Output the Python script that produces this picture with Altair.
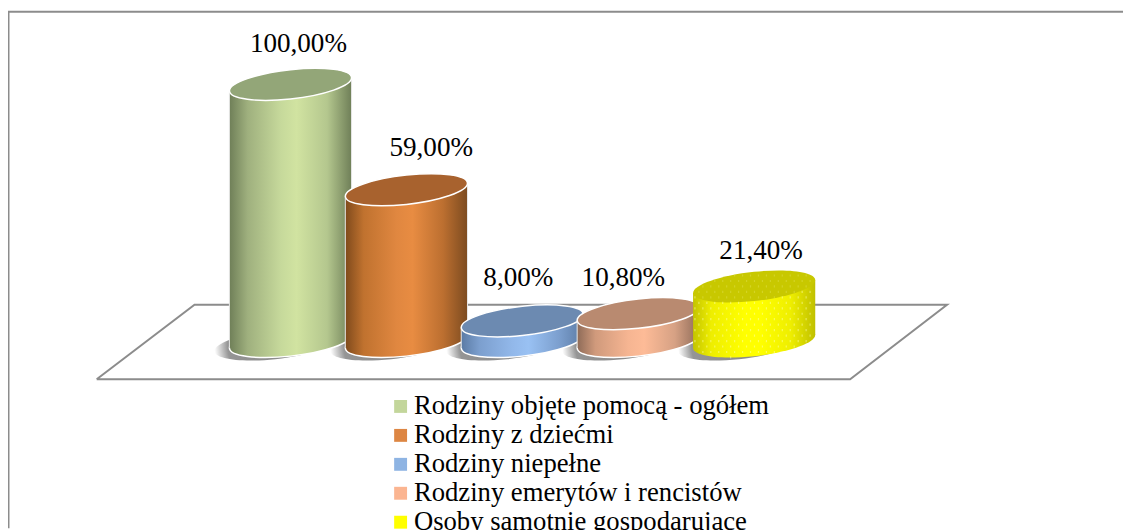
import altair as alt
import pandas as pd

categories = ["Rodziny objęte pomocą - ogółem", "Rodziny z dziećmi", "Rodziny niepełne",
              "Rodziny emerytów i rencistów", "Osoby samotnie gospodarujące"]
values = [100.0, 59.0, 8.0, 10.8, 21.4]
labels = ["100,00%", "59,00%", "8,00%", "10,80%", "21,40%"]
legend_colors = ["#c3d69b", "#dd8643", "#8eb4e3", "#fbb591", "#ffff00"]
top_colors = ["#93a678", "#a8622e", "#6c8ab1", "#b98a70", "#c8c800"]
side_stops = [
    ["#6f7f58", "#9fb07e", "#c6d99b", "#d1e3a1", "#b4c78e", "#6f7f58"],
    ["#7f4a1c", "#c0722f", "#e08740", "#e88c42", "#bc6f30", "#7c4b20"],
    ["#5b7ba5", "#7c9fce", "#92b8ea", "#99c1f3", "#7c9fce", "#5b7ba5"],
    ["#8e6b58", "#d09a7c", "#f6b592", "#fdbb97", "#d6a184", "#8e6b58"],
    ["#c4c400", "#eeee00", "#ffff00", "#ffff00", "#eeee00", "#c0c000"],
]
rim_strokes = ["#ffffff", "#ffffff", "#ffffff", "#ffffff", None]
label_dx = [8, 25, -4, -15, 7]
label_dy = [-41, -42, -43.5, -35.5, -36]
floor_x = [-1.672, 4.828, 5.664, -0.828, -1.672]
floor_y = [-14.67, -14.67, 14.29, 14.29, -14.67]

W, H = 1123, 522
x_scale = alt.Scale(domain=[-2.437, 7.182], range=[0, W], nice=False, zero=False)
y_scale = alt.Scale(domain=[128.96, -72.59], range=[0, H], nice=False, zero=False)
X = lambda f: alt.X(f, type="quantitative", scale=x_scale, axis=None)
Y = lambda f: alt.Y(f, type="quantitative", scale=y_scale, axis=None)

RADIUS = 0.527   # half a cylinder, in category steps
TILT = 2.5       # rise of the rim across half a cylinder, in value units
HALF_PX = 61.5
SIZE = (2 * HALF_PX) ** 2   # symbol size giving the rim's width
SHEAR, MINOR = -0.1066, 0.24


def rim_path():
    k = 0.5523

    def p(c, s):
        return f"{c:.4f},{SHEAR * c + MINOR * s:.4f}"

    return (f"M{p(1, 0)} C{p(1, k)} {p(k, 1)} {p(0, 1)} C{p(-k, 1)} {p(-1, k)} {p(-1, 0)} "
            f"C{p(-1, -k)} {p(-k, -1)} {p(0, -1)} C{p(k, -1)} {p(1, -k)} {p(1, 0)} Z")


def dots_path(side_px):
    """A fine dot texture as one symbol path, in the rim symbol's unit square."""
    parts = []
    dx, dy = 8.0 / HALF_PX, 5.5 / HALF_PX
    w, h = 0.6 / HALF_PX, 1.1 / HALF_PX
    depth = side_px / HALF_PX
    row = -8
    while row < 30:
        x = -0.97 + (dx / 2 if row % 2 else 0)
        while x < 0.97:
            y = row * dy
            rim = SHEAR * x
            half = MINOR * (1 - x * x) ** 0.5
            if side_px:
                keep = rim + half < y < rim + half + depth
            else:
                keep = abs(y - rim) < half * 0.95
            if keep:
                parts.append(f"M{x - w:.4f},{y - h:.4f}L{x + w:.4f},{y - h:.4f}"
                             f"L{x + w:.4f},{y + h:.4f}L{x - w:.4f},{y + h:.4f}Z")
            x += dx
        row += 1
    return "".join(parts)


RIM = rim_path()
layers = []

# frame
frame_style = dict(color="#8c8c8c", strokeWidth=2)
layers.append(alt.Chart(pd.DataFrame({"a": [0]})).mark_rule(**frame_style).encode(
    x=alt.value(0), x2=alt.value(W), y=alt.value(2)))
layers.append(alt.Chart(pd.DataFrame({"a": [0]})).mark_rule(**frame_style).encode(
    x=alt.value(0.5), y=alt.value(2), y2=alt.value(H)))

# floor
floor = pd.DataFrame({"fx": floor_x, "fy": floor_y, "o": range(len(floor_x))})
layers.append(alt.Chart(floor).mark_line(color="#8c8c8c", strokeWidth=2).encode(
    x=X("fx"), y=Y("fy"), order="o:Q"))

# legend source, invisible in the plot
df = pd.DataFrame({"i": range(5), "v": values, "cat": categories, "lab": labels})
layers.append(alt.Chart(df).mark_square(opacity=0).encode(
    x=X("i"), y=Y("v"),
    color=alt.Color("cat:N", scale=alt.Scale(domain=categories, range=legend_colors),
                    legend=alt.Legend(title=None, orient="none", legendX=382, legendY=386,
                                      symbolType="square", symbolSize=169, symbolOpacity=1,
                                      symbolStrokeWidth=0, labelFont="Liberation Serif",
                                      labelFontSize=26.85, labelColor="#000000", labelLimit=500,
                                      rowPadding=1.15, labelOffset=0))))

# soft shadows
shadow = alt.RadialGradient(gradient="radial", stops=[
    alt.GradientStop(offset=0, color="#8a8a8a"), alt.GradientStop(offset=0.78, color="#959595"),
    alt.GradientStop(offset=1, color="#ffffff")])
layers.append(alt.Chart(df.assign(sx=df.i - 0.13, sy=-1.2)).mark_point(
    filled=True, shape=RIM, size=SIZE, fill=shadow, opacity=1).encode(x=X("sx"), y=Y("sy")))

for i, (v, stops) in enumerate(zip(values, side_stops)):
    offsets = [0, 0.15, 0.42, 0.55, 0.8, 1]
    grad = alt.LinearGradient(gradient="linear", x1=0, x2=1, y1=0, y2=0,
                              stops=[alt.GradientStop(offset=o, color=c) for o, c in zip(offsets, stops)])
    base = alt.Chart(pd.DataFrame({"i": [i], "v": [v], "b": [0.0]}))
    rim_style = dict(stroke=rim_strokes[i], strokeWidth=1.5) if rim_strokes[i] else {}
    layers.append(base.mark_point(filled=True, shape=RIM, size=SIZE, fill=grad, opacity=1,
                                  **rim_style).encode(x=X("i"), y=Y("b")))
    side = pd.DataFrame({"sx": [i - RADIUS, i + RADIUS], "top": [v - TILT, v + TILT], "bot": [-TILT, TILT]})
    layers.append(alt.Chart(side).mark_area(fill=grad, opacity=1).encode(
        x=X("sx"), y=Y("top"), y2=alt.Y2("bot")))
    if rim_strokes[i]:
        layers.append(alt.Chart(side).mark_rule(color="#e8e8e8", strokeWidth=1).encode(
            x=X("sx"), y=Y("top"), y2=alt.Y2("bot")))
    layers.append(base.mark_point(filled=True, shape=RIM, size=SIZE, fill=top_colors[i], opacity=1,
                                  **rim_style).encode(x=X("i"), y=Y("v")))
    if not rim_strokes[i]:
        height_px = v * H / (128.96 + 72.59)
        layers.append(base.mark_point(filled=True, shape=dots_path(height_px), size=SIZE,
                                      fill="#ffffb0", opacity=0.5).encode(x=X("i"), y=Y("v")))
        layers.append(base.mark_point(filled=True, shape=dots_path(0), size=SIZE,
                                      fill="#e6e65a", opacity=0.4).encode(x=X("i"), y=Y("v")))

for i, (v, lab) in enumerate(zip(values, labels)):
    layers.append(alt.Chart(pd.DataFrame({"i": [i], "v": [v], "t": [lab]})).mark_text(
        font="Liberation Serif", fontSize=27.3, color="#000000", baseline="middle", align="center",
        dx=label_dx[i], dy=label_dy[i]).encode(x=X("i"), y=Y("v"), text="t:N"))

chart = alt.layer(*layers).properties(
    width=W, height=H, padding=0, autosize=alt.AutoSizeParams(type="none"), background="#ffffff"
).configure_view(stroke=None)

chart.save("out.html", embed_options={"renderer": "svg", "actions": False})
